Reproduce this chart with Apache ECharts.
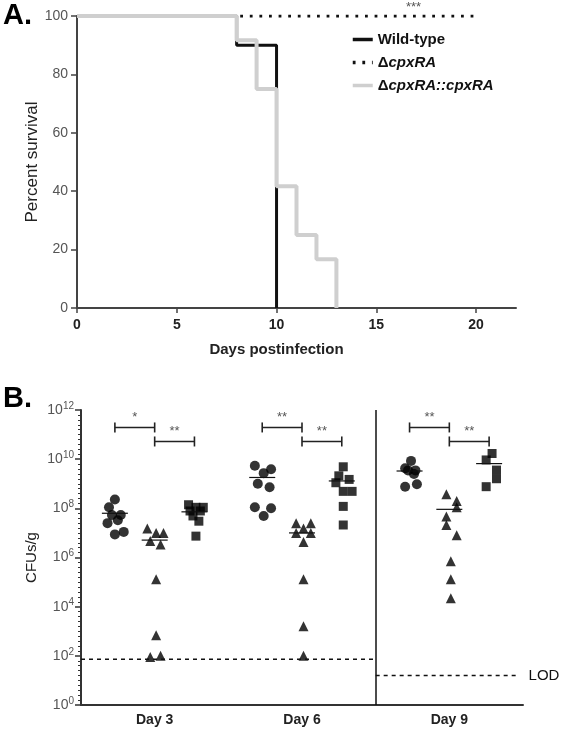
<!DOCTYPE html>
<html><head><meta charset="utf-8">
<script src="https://cdn.jsdelivr.net/npm/echarts@6/dist/echarts.min.js"></script>
<style>html,body{margin:0;padding:0;background:#fff}#c{width:566px;height:732px}</style>
</head><body><div id="c"></div>
<script>
// ---------- Panel A: Kaplan-Meier survival ----------
const wildTypeDays = [0, 8, 10];
const wildTypeSurvival = [100, 90, 0];
const mutantDays = [0, 20];
const mutantSurvival = [100, 100];
const complementDays = [0, 8, 9, 10, 11, 12, 13];
const complementSurvival = [100, 91.7, 75, 41.7, 25, 16.7, 0];
const survivalXTicks = [0, 5, 10, 15, 20];
const survivalStars = '***';

// ---------- Panel B: CFUs/g per day ----------
const dayLabels = ['Day 3', 'Day 6', 'Day 9'];
const wildTypeDay3 = [2.3e8, 1.1e8, 5.4e7, 5.4e7, 3.3e7, 2.5e7, 1.1e7, 8.7e6];
const wildTypeDay6 = [5.4e9, 2.7e9, 3.9e9, 1.0e9, 7.2e8, 1.1e8, 1.0e8, 4.9e7];
const wildTypeDay9 = [8.5e9, 4.3e9, 3.5e9, 3.5e9, 2.5e9, 7.6e8, 9.5e8];
const mutantDay3 = [1.5e7, 1.0e7, 1.0e7, 4.7e6, 3.4e6, 1.3e5, 680, 90, 100];
const mutantDay6 = [2.5e7, 2.5e7, 1.5e7, 1.0e7, 1.0e7, 4.3e6, 1.3e5, 1.6e3, 100];
const mutantDay9 = [3.7e8, 2.0e8, 1.1e8, 4.6e7, 2.1e7, 8.1e6, 7.1e5, 1.3e5, 2.2e4];
const complementDay3 = [1.4e8, 1.1e8, 1.1e8, 7.8e7, 7.8e7, 4.9e7, 3.0e7, 7.4e6];
const complementDay6 = [4.9e9, 2.1e9, 1.5e9, 1.1e9, 4.9e8, 4.9e8, 1.2e8, 2.1e7];
const complementDay9 = [1.7e10, 9.3e9, 3.6e9, 1.6e9, 7.6e8];
const wildTypeMedians = [6.3e7, 1.8e9, 3.3e9];
const mutantMedians = [5.1e6, 1.0e7, 9.1e7];
const complementMedians = [7.2e7, 1.3e9, 6.6e9];
const lodDay3and6 = 72;
const lodDay9 = 16;
const significanceLeft = ['*', '**', '**'];   // wild-type vs mutant
const significanceRight = ['**', '**', '**']; // mutant vs complement
const cfuTickExponents = [0, 2, 4, 6, 8, 10, 12];

// horizontal jitter of the dots inside each group (layout only)
const wildTypeJitter = [[0, -0.04, -0.02, 0.04, 0.02, -0.05, 0.06, 0],
                        [-0.05, 0.01, 0.06, -0.03, 0.05, -0.05, 0.06, 0.01],
                        [0.01, -0.03, -0.01, 0.04, 0.03, -0.03, 0.05]];
const mutantJitter = [[-0.05, 0.01, 0.06, -0.03, 0.04, 0.01, 0.01, -0.03, 0.04],
                      [-0.04, 0.06, 0.01, -0.04, 0.06, 0.01, 0.01, 0.01, 0.01],
                      [-0.02, 0.05, 0.05, -0.02, -0.02, 0.05, 0.01, 0.01, 0.01]];
const complementJitter = [[-0.04, 0.01, 0.06, -0.03, 0.04, -0.01, 0.03, 0.01],
                          [0.01, -0.02, 0.05, -0.04, 0.01, 0.07, 0.01, 0.01],
                          [0.02, -0.02, 0.05, 0.05, -0.02]];

const FONT = "'Liberation Sans', Arial, Helvetica, sans-serif";
const groupShift = [-0.27, 0, 0.27];

function km(days, surv) { return days.map((d, i) => [d, surv[i]]); }
function dots(dayArrays, jitters, g) {
  const out = [];
  dayArrays.forEach((arr, d) => arr.forEach((v, i) => out.push([d + groupShift[g] + jitters[d][i], Math.log10(v)])));
  return out;
}
function medianData(meds, g) { return meds.map((m, d) => [d + groupShift[g], Math.log10(m)]); }

const bracketLevels = [11.29, 10.72];
const bracketData = [];
for (let d = 0; d < 3; d++) {
  bracketData.push([d + groupShift[0], d + groupShift[1], bracketLevels[0], significanceLeft[d]]);
  bracketData.push([d + groupShift[1], d + groupShift[2], bracketLevels[1], significanceRight[d]]);
}

const chart = echarts.init(document.getElementById('c'));

function nameLabel(n) {
  if (n === 'Wild-type') return '{n|Wild-type}';
  if (n === 'ΔcpxRA') return '{n|Δ}{i|cpxRA}';
  return '{n|Δ}{i|cpxRA::cpxRA}';
}

const medianSeries = (meds, g) => ({
  type: 'custom', xAxisIndex: 1, yAxisIndex: 1, z: 5,
  data: medianData(meds, g),
  renderItem: (params, api) => {
    const p = api.coord([api.value(0), api.value(1)]);
    return { type: 'line', shape: { x1: p[0] - 13, y1: p[1], x2: p[0] + 13, y2: p[1] },
      style: { stroke: '#111', lineWidth: 1.2 } };
  }
});

const option = {
  animation: false,
  backgroundColor: '#fff',
  textStyle: { fontFamily: FONT },
  grid: [
    { left: 77, right: 50, top: 16, bottom: 424 },
    { left: 81, right: 43, top: 410, bottom: 27 }
  ],
  legend: {
    orient: 'vertical', left: 346, top: 27, itemWidth: 20, itemHeight: 14, itemGap: 8,
    data: ['Wild-type', 'ΔcpxRA', 'ΔcpxRA::cpxRA'],
    formatter: nameLabel,
    itemStyle: { color: 'rgba(0,0,0,0)', borderColor: 'rgba(0,0,0,0)', borderWidth: 0 },
    lineStyle: { width: 3.5 },
    textStyle: { fontFamily: FONT, color: '#111',
      rich: { n: { fontFamily: FONT, fontSize: 15, fontWeight: 'bold', color: '#111' },
              i: { fontFamily: FONT, fontSize: 15, fontWeight: 'bold', fontStyle: 'italic', color: '#111' } } }
  },
  graphic: [
    { type: 'text', left: 3, top: 1, style: { text: 'A.', font: 'bold 29px ' + FONT, fill: '#000' } },
    { type: 'text', left: 3, top: 384, style: { text: 'B.', font: 'bold 29px ' + FONT, fill: '#000' } },
    { type: 'text', left: 406, top: 1, style: { text: survivalStars, font: '13px ' + FONT, fill: '#555' } }
  ],
  xAxis: [
    { gridIndex: 0, type: 'value', min: 0, max: 22,
      name: 'Days postinfection', nameLocation: 'middle', nameGap: 34, nameMoveOverlap: false,
      nameTextStyle: { fontSize: 15, fontWeight: 'bold', color: '#222', padding: [0, 40, 0, 0] },
      axisLine: { lineStyle: { color: '#444', width: 2 } },
      axisTick: { customValues: survivalXTicks, length: 5, lineStyle: { color: '#444', width: 1.5 } },
      axisLabel: { customValues: survivalXTicks, fontSize: 14, fontWeight: 'bold', color: '#222', margin: 10 },
      splitLine: { show: false } },
    { gridIndex: 1, type: 'value', min: -0.5, max: 2.5, show: false, position: 'top' },
    { gridIndex: 1, type: 'category', data: dayLabels, position: 'bottom',
      axisLine: { onZero: false, lineStyle: { color: '#333', width: 2 } },
      axisTick: { alignWithLabel: true, length: 5, lineStyle: { color: '#333', width: 1.5 } },
      axisLabel: { fontSize: 14, fontWeight: 'bold', color: '#222', margin: 8 } }
  ],
  yAxis: [
    { gridIndex: 0, type: 'value', min: 0, max: 100, interval: 20,
      name: 'Percent survival', nameLocation: 'middle', nameGap: 36, nameMoveOverlap: false,
      nameTextStyle: { fontSize: 17, color: '#222' },
      axisLine: { show: true, onZero: false, lineStyle: { color: '#444', width: 2 } },
      axisTick: { show: true, length: 6, lineStyle: { color: '#444', width: 1.5 } },
      axisLabel: { fontSize: 14, color: '#555', margin: 9 },
      splitLine: { show: false } },
    { gridIndex: 1, type: 'value', min: 0, max: 12, interval: 2, position: 'left',
      name: 'CFUs/g', nameLocation: 'middle', nameGap: 42, nameMoveOverlap: false,
      nameTextStyle: { fontSize: 15, color: '#222' },
      axisLine: { show: true, onZero: false, lineStyle: { color: '#333', width: 2 } },
      axisTick: { show: true, length: 6, lineStyle: { color: '#333', width: 1.5 } },
      minorTick: { show: true, splitNumber: 10, length: 3, lineStyle: { color: '#333', width: 1 } },
      axisLabel: { margin: 7, formatter: v => cfuTickExponents.indexOf(v) >= 0 ? '{b|10}{s|' + v + '}' : '',
        rich: { b: { fontSize: 14, color: '#555', fontFamily: FONT },
                s: { fontSize: 10, color: '#555', fontFamily: FONT, padding: [0, 0, 8, 0] } } },
      splitLine: { show: false } }
  ],
  series: [
    { name: 'ΔcpxRA', type: 'line', xAxisIndex: 0, yAxisIndex: 0, z: 1,
      data: km(mutantDays, mutantSurvival), symbol: 'none',
      lineStyle: { color: '#111', width: 2.8, type: [2.8, 6.8] }, itemStyle: { color: '#111' } },
    { name: 'Wild-type', type: 'line', step: 'end', xAxisIndex: 0, yAxisIndex: 0, z: 2,
      data: km(wildTypeDays, wildTypeSurvival), symbol: 'none',
      lineStyle: { color: '#111', width: 3 }, itemStyle: { color: '#111' } },
    { name: 'ΔcpxRA::cpxRA', type: 'line', step: 'end', xAxisIndex: 0, yAxisIndex: 0, z: 3,
      data: km(complementDays, complementSurvival), symbol: 'none',
      lineStyle: { color: '#cfcfcf', width: 4 }, itemStyle: { color: '#cfcfcf' } },

    // Panel B
    { type: 'line', xAxisIndex: 1, yAxisIndex: 1, symbol: 'none', silent: true,
      data: [[-0.5, Math.log10(lodDay3and6)], [1.5, Math.log10(lodDay3and6)]],
      lineStyle: { color: '#111', width: 1.5, type: [4, 4] },
      markLine: { silent: true, symbol: 'none', label: { show: false },
        lineStyle: { color: '#111', width: 1.5, type: 'solid' }, data: [{ xAxis: 1.5 }] } },
    { type: 'line', xAxisIndex: 1, yAxisIndex: 1, symbol: 'none', silent: true,
      data: [[1.5, Math.log10(lodDay9)], [2.47, Math.log10(lodDay9)]],
      lineStyle: { color: '#111', width: 1.5, type: [4, 4] },
      endLabel: { show: true, formatter: 'LOD', fontSize: 15, color: '#111', distance: 10 } },
    { type: 'scatter', xAxisIndex: 1, yAxisIndex: 1, symbol: 'circle', symbolSize: 10,
      itemStyle: { color: '#000' }, data: dots([wildTypeDay3, wildTypeDay6, wildTypeDay9], wildTypeJitter, 0) },
    { type: 'scatter', xAxisIndex: 1, yAxisIndex: 1, symbol: 'triangle', symbolSize: 10,
      itemStyle: { color: '#000' }, data: dots([mutantDay3, mutantDay6, mutantDay9], mutantJitter, 1) },
    { type: 'scatter', xAxisIndex: 1, yAxisIndex: 1, symbol: 'rect', symbolSize: 9,
      itemStyle: { color: '#000' }, data: dots([complementDay3, complementDay6, complementDay9], complementJitter, 2) },
    medianSeries(wildTypeMedians, 0),
    medianSeries(mutantMedians, 1),
    medianSeries(complementMedians, 2),
    { type: 'custom', xAxisIndex: 1, yAxisIndex: 1, z: 5, data: bracketData,
      renderItem: (params, api) => {
        const a = api.coord([api.value(0), api.value(2)]);
        const b = api.coord([api.value(1), api.value(2)]);
        const st = { stroke: '#222', lineWidth: 1.6 };
        return { type: 'group', children: [
          { type: 'line', shape: { x1: a[0], y1: a[1], x2: b[0], y2: b[1] }, style: st },
          { type: 'line', shape: { x1: a[0], y1: a[1] - 5, x2: a[0], y2: a[1] + 5 }, style: st },
          { type: 'line', shape: { x1: b[0], y1: b[1] - 5, x2: b[0], y2: b[1] + 5 }, style: st },
          { type: 'text', x: (a[0] + b[0]) / 2, y: a[1] - 4,
            style: { text: bracketData[params.dataIndex][3], font: '13px ' + FONT, fill: '#555',
                     textAlign: 'center', textVerticalAlign: 'bottom' } }
        ] };
      } }
  ]
};
chart.setOption(option);
</script>
</body></html>
